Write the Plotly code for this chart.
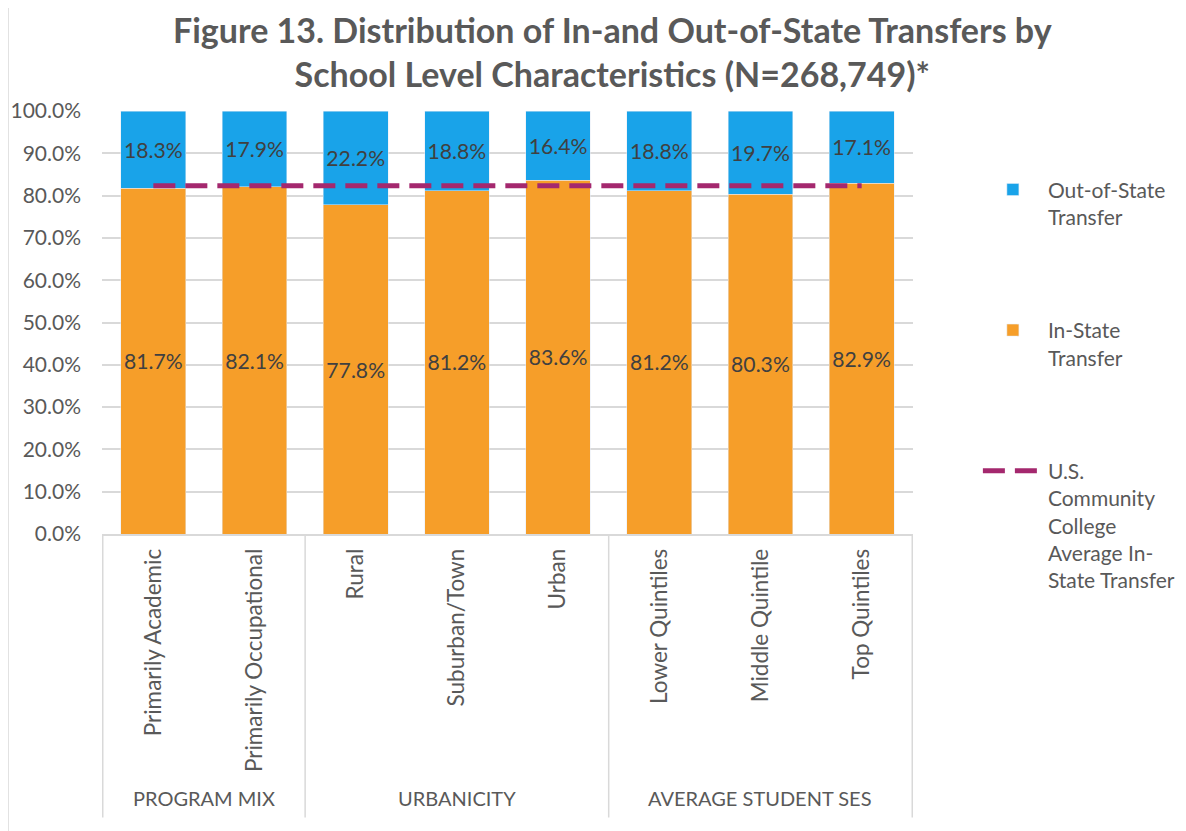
import plotly.graph_objects as go

categories = ['Primarily Academic', 'Primarily Occupational', 'Rural', 'Suburban/Town', 'Urban',
              'Lower Quintiles', 'Middle Quintile', 'Top Quintiles']
groups = ['PROGRAM MIX', 'URBANICITY', 'AVERAGE STUDENT SES']
group_sizes = [2, 3, 3]
in_state = [0.817, 0.821, 0.778, 0.812, 0.836, 0.812, 0.803, 0.829]
out_state = [0.183, 0.179, 0.222, 0.188, 0.164, 0.188, 0.197, 0.171]
us_avg_in_state = 0.823

GREY = '#595959'
FONT = 'Lato, Carlito, Calibri, sans-serif'

fig = go.Figure()
fig.add_trace(go.Bar(
    x=categories, y=in_state, name='In-State<br>Transfer',
    marker=dict(color='#F69E29'), legendrank=2, legendgroup='in',
    text=in_state, texttemplate='%{text:.1%}', textposition='inside',
    insidetextanchor='middle', textfont=dict(color='#404040', size=22), textangle=0,
))
fig.add_trace(go.Bar(
    x=categories, y=out_state, name='Out-of-State<br>Transfer',
    marker=dict(color='#19A3E9'), legendrank=1, legendgroup='out',
    text=out_state, texttemplate='%{text:.1%}', textposition='inside',
    insidetextanchor='middle', textfont=dict(color='#404040', size=22), textangle=0,
))
fig.add_trace(go.Scatter(
    x=categories, y=[us_avg_in_state] * len(categories), mode='lines',
    name='U.S.<br>Community<br>College<br>Average In-<br>State Transfer', legendgroup='avg',
    line=dict(color='#A4286E', width=5, dash='22px,10px'), legendrank=3,
))

# group labels and dividers under the category axis
start = 0
bottom = -0.67
fig.add_shape(type='line', xref='x', yref='paper', x0=-0.5, x1=-0.5, y0=0, y1=bottom,
              line=dict(color='#d9d9d9', width=1.5))
for g, n in zip(groups, group_sizes):
    end = start + n
    fig.add_annotation(x=(start + end - 1) / 2, y=-0.658, xref='x', yref='paper', text=g,
                       showarrow=False, font=dict(size=20, color=GREY))
    fig.add_shape(type='line', xref='x', yref='paper', x0=end - 0.5, x1=end - 0.5, y0=0, y1=bottom,
                  line=dict(color='#d9d9d9', width=1.5))
    start = end

# chart border on the left
fig.add_shape(type='line', xref='paper', yref='paper', x0=-94 / 811, x1=-94 / 811, y0=1.3, y1=-0.75,
              line=dict(color='#d9d9d9', width=1.5))

fig.add_annotation(
    text='<b>Figure 13. Distribution of In-and Out-of-State Transfers by<br>School Level Characteristics (N=268,749)*</b>',
    xref='paper', yref='paper', x=0.63, y=1.245, xanchor='center', yanchor='top', showarrow=False,
    font=dict(size=34, color=GREY, family=FONT),
)

fig.update_layout(
    width=1178, height=823,
    barmode='stack', bargap=0.36,
    paper_bgcolor='white', plot_bgcolor='white',
    font=dict(family=FONT, color=GREY),
    margin=dict(l=94, r=273, t=103, b=297, autoexpand=False),
    legend=dict(x=1.08, y=0.862, xanchor='left', yanchor='top', font=dict(size=21, color=GREY),
                traceorder='grouped', tracegroupgap=83, valign='top', itemwidth=60,
                maxheight=800, bgcolor='rgba(0,0,0,0)'),
    xaxis=dict(type='category', tickangle=-90, showline=True, linecolor='#d9d9d9', linewidth=1.5,
               ticks='', tickfont=dict(size=22.5, color=GREY), ticklabelstandoff=4, automargin=False),
    yaxis=dict(range=[0, 1], dtick=0.1, tickformat='.1%', showgrid=True, gridcolor='#d9d9d9',
               gridwidth=1.5, zeroline=False, tickfont=dict(size=21, color=GREY),
               ticklabelstandoff=20, automargin=False),
    showlegend=True,
)

fig.write_html('out.html')
